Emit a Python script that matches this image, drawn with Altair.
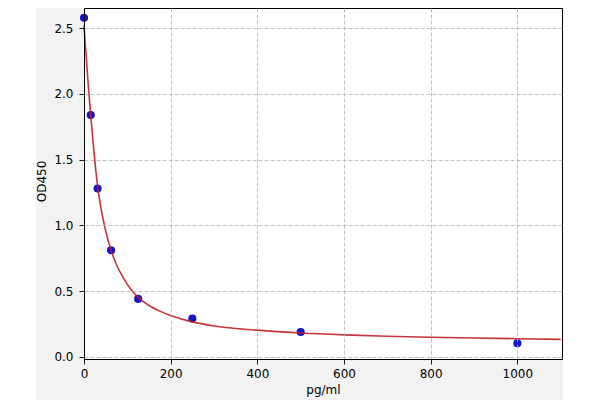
import altair as alt
import pandas as pd

# standard points
conc = [0, 15.6, 31.25, 62.5, 125, 250, 500, 1000]
od = [2.58, 1.84, 1.28, 0.81, 0.44, 0.29, 0.188, 0.102]

# fitted curve, values
curve_x = [0, 5, 10, 15.6, 20, 25, 31.25, 40, 50, 62.5, 75, 90, 110, 125, 150,
           175, 200, 250, 300, 350, 400, 500, 600, 700, 800, 900, 1000, 1100]
curve_y = [2.52, 2.29, 2.06, 1.83, 1.67, 1.49, 1.30, 1.115, 0.957, 0.809, 0.70, 0.604,
           0.505, 0.452, 0.39, 0.347, 0.314, 0.265, 0.234, 0.215, 0.202, 0.180,
           0.166, 0.156, 0.148, 0.142, 0.137, 0.132]

x_ticks = [0, 200, 400, 600, 800, 1000]
y_ticks = [0.0, 0.5, 1.0, 1.5, 2.0, 2.5]

pts = pd.DataFrame({"x": conc, "y": od})
crv = pd.DataFrame({"x": curve_x, "y": curve_y})

xscale = alt.Scale(domain=[0, 1103], nice=False, zero=False)
yscale = alt.Scale(domain=[-0.0175, 2.654], nice=False, zero=False)

xaxis = alt.Axis(values=x_ticks, format="d", title="pg/ml", grid=True, zindex=1,
                 titleX=239, titleY=30, titleBaseline="middle", titleAlign="center",
                 labelPadding=4, labelFlush=False)
yaxis = alt.Axis(values=y_ticks, format=".1f", title="OD450", grid=True, zindex=1,
                 titleX=-43, titleY=173, titleAngle=270, titleBaseline="middle",
                 titleAlign="center", labelPadding=6, labelFlush=False)

strip = alt.Chart(pts).mark_rect(color="white").encode(
    x=alt.value(-76), x2=alt.value(-48), y=alt.value(0), y2=alt.value(392)
)

points = alt.Chart(pts).mark_circle(size=66, color="#1414c8", opacity=1).encode(
    x=alt.X("x:Q", scale=xscale, axis=xaxis),
    y=alt.Y("y:Q", scale=yscale, axis=yaxis),
)

line = alt.Chart(crv).mark_line(color="#bf1f22", strokeWidth=1.6, interpolate="monotone",
                                opacity=0.9).encode(
    x=alt.X("x:Q", scale=xscale),
    y=alt.Y("y:Q", scale=yscale),
)

chart = alt.layer(strip, points, line).properties(
    width=478, height=351,
    autosize=alt.AutoSizeParams(type="none"),
    padding={"left": 76, "top": 0, "right": 1, "bottom": 41},
    background="#f2f2f2",
).configure_view(
    fill="white", stroke="black", strokeWidth=1
).configure_axis(
    domain=True, domainColor="black", domainWidth=1,
    gridColor="#b0b0b0", gridDash=[4, 2], gridWidth=0.8,
    tickColor="black", tickSize=5, tickWidth=0.9,
    labelFont="DejaVu Sans", labelFontSize=12, labelColor="black",
    titleFont="DejaVu Sans", titleFontSize=12, titleColor="black", titleFontWeight="normal",
)

chart.save("out.html", embed_options={"renderer": "svg", "actions": False})
